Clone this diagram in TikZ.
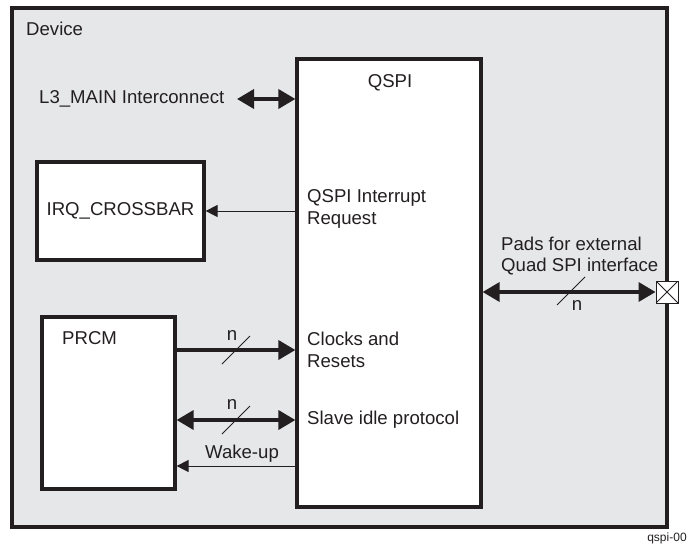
\documentclass[tikz,border=0pt]{standalone}
\usepackage{fontspec}
\setmainfont{Liberation Sans}
\usetikzlibrary{arrows.meta}
\definecolor{devfill}{RGB}{230,231,232}
\definecolor{ink}{RGB}{35,31,32}
\begin{document}
\begin{tikzpicture}[x=1pt,y=-1pt,
  every node/.style={text=ink, font=\fontsize{18.6}{21.5}\selectfont, inner sep=0pt},
  box/.style={draw=ink, line width=3.2pt, fill=white},
  thickarrow/.style={draw=ink, line width=3.5pt, -{Triangle[length=17pt,width=19pt]}},
  dblthick/.style={draw=ink, line width=3.5pt, {Triangle[length=17pt,width=19pt]}-{Triangle[length=17pt,width=19pt]}},
  thinarrow/.style={draw=ink, line width=1pt, -{Triangle[length=12pt,width=12pt]}},
  slash/.style={draw=ink, line width=1pt},
  padbox/.style={draw=ink, line width=0.9pt, fill=white, minimum size=22pt,
    path picture={\draw[ink, line width=0.9pt]
      (path picture bounding box.north west) -- (path picture bounding box.south east)
      (path picture bounding box.south west) -- (path picture bounding box.north east);}}
]
\useasboundingbox (0,0) rectangle (691,546);
\node[draw=ink, line width=3.3pt, fill=devfill, minimum width=655pt, minimum height=519pt] (device) at (339.5,267.5) {};
\node[anchor=west] (devlbl) at (26,29) {Device};
\node[box, minimum width=184pt, minimum height=448pt] (qspi) at (389,283) {};
\node (qspilbl) at (390,83) {QSPI};
\node[box, minimum width=167pt, minimum height=98pt] (irq) at (120.5,211) {IRQ\_CROSSBAR};
\node[box, minimum width=133pt, minimum height=172pt] (prcm) at (108.5,403) {};
\node[anchor=west] (prcmlbl) at (62,338) {PRCM};
\node[anchor=west] (l3) at (39,99) {L3\_MAIN Interconnect};
\node[anchor=west, align=left] (irqreq) at (307,209) {QSPI Interrupt\\Request};
\node[anchor=west, align=left] (clk) at (307,350) {Clocks and\\Resets};
\node[anchor=west] (slave) at (307,420) {Slave idle protocol};
\coordinate (wk) at (297,466);
\node (wklbl) at (242,454) {Wake-up};
\node[anchor=west, align=left] (pads) at (501,256) {Pads for external\\Quad SPI interface};
\node[padbox] (pad) at (667,292) {};
\node (n1) at (232,335) {n};
\node (n2) at (232,404) {n};
\node (n3) at (577,305) {n};
\node[font=\fontsize{12}{14}\selectfont] (tag) at (667,538.5) {qspi-00};

\draw[dblthick] (237,99) -- (l3.east -| qspi.west);
\draw[thinarrow] (qspi.west |- irq.east) -- (irq.east);
\draw[thickarrow] (prcm.east |- clk.west) -- (qspi.west |- clk.west);
\draw[dblthick] (prcm.east |- slave.west) -- (qspi.west |- slave.west);
\draw[thinarrow] (wk) -- (prcm.east |- wk);
\draw[dblthick] (qspi.east |- pad.west) -- (pad.west);

\draw[slash] (222,364) -- (250,336);
\draw[slash] (222,434) -- (250,406);
\draw[slash] (557,305) -- (585,277);
\end{tikzpicture}
\end{document}
